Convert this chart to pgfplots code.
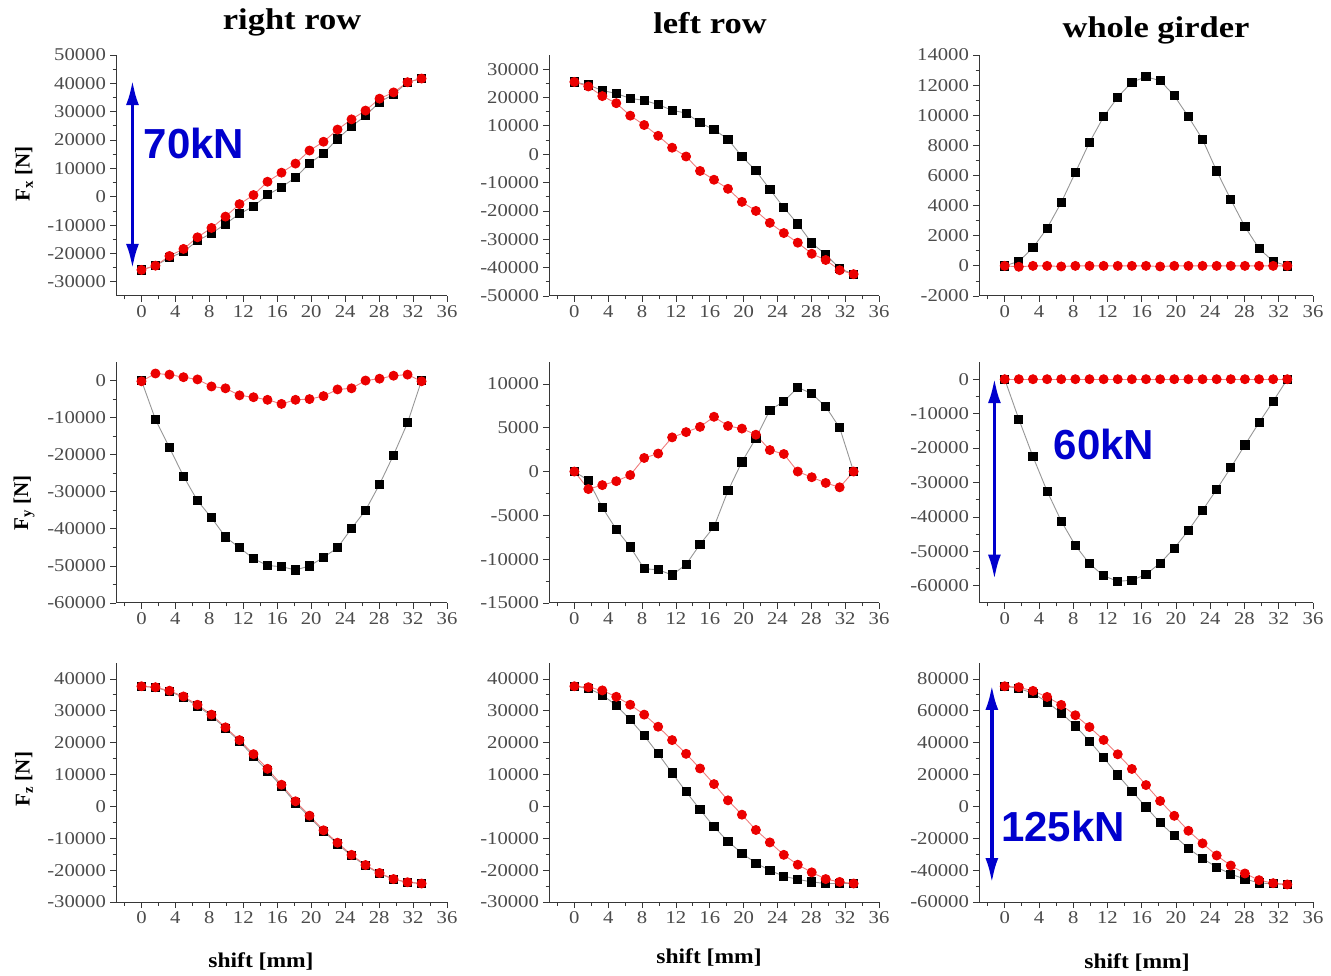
\documentclass[border=0pt]{standalone}
\usepackage{pgfplots}
\pgfplotsset{compat=1.18}
\usepackage{pgfplotstable}
\usepackage{fontspec}
\setmainfont{Liberation Serif}
\newfontfamily\annfont{Liberation Sans}
\usetikzlibrary{arrows.meta}

\definecolor{axisgrey}{RGB}{55,55,55}
\definecolor{labgrey}{RGB}{75,75,75}
\definecolor{linegrey}{RGB}{150,150,150}
\definecolor{linered}{RGB}{240,125,125}
\definecolor{markred}{RGB}{235,0,0}
\definecolor{arrowblue}{RGB}{0,0,205}

% shift [mm], black squares, red circles
\pgfplotstableread{
s black red
0     -25800 -25800
1.65  -24300 -24300
3.3   -21500 -20900
4.95  -19400 -18400
6.6   -15500 -14300
8.25  -12900 -11000
9.9    -9600  -7000
11.55  -6000  -2600
13.2   -3400    600
14.85    700   5300
16.5    3400   8500
18.15   6800  11700
19.8   11800  16300
21.45  15300  19400
23.1   20400  23700
24.75  24800  27300
26.4   28600  30400
28.05  33400  34600
29.7   36100  36800
31.35  40400  40400
33     41700  41700
}\rightFx

\pgfplotstableread{
s black red
0      25500  25500
1.65   24400  23900
3.3    22500  20500
4.95   21400  18000
6.6    19700  13600
8.25   19000  10300
9.9    17500   6500
11.55  15500   2300
13.2   14500   -800
14.85  11100  -5900
16.5    8700  -9000
18.15   5300 -12200
19.8    -800 -16800
21.45  -5800 -20000
23.1  -12400 -24200
24.75 -18800 -27800
26.4  -24600 -31200
28.05 -31300 -35100
29.7  -35400 -37300
31.35 -40300 -40900
33    -42300 -42300
}\leftFx

\pgfplotstableread{
s black red
0          0    0
1.65     300  -60
3.3     1200    0
4.95    2500    0
6.6     4200  -40
8.25    6200    0
9.9     8200    0
11.55   9900    0
13.2   11200    0
14.85  12200    0
16.5   12550    0
18.15  12300  -40
19.8   11300    0
21.45   9900    0
23.1    8400    0
24.75   6300    0
26.4    4400    0
28.05   2600    0
29.7    1150    0
31.35    300    0
33         0    0
}\wholeFx

\pgfplotstableread{
s black red
0          0   -200
1.65  -10500   1900
3.3   -18100   1600
4.95  -25800    900
6.6   -32400    300
8.25  -37000  -1600
9.9   -42200  -2100
11.55 -45100  -4000
13.2  -48000  -4500
14.85 -49900  -5200
16.5  -50200  -6300
18.15 -51100  -5200
19.8  -50000  -5000
21.45 -47700  -4200
23.1  -45100  -2400
24.75 -39900  -2100
26.4  -35000      0
28.05 -28000    500
29.7  -20100   1300
31.35 -11400   1600
33         0   -200
}\rightFy

\pgfplotstableread{
s black red
0          0      0
1.65   -1000  -2000
3.3    -4100  -1550
4.95   -6600  -1100
6.6    -8600   -400
8.25  -11100   1550
9.9   -11200   2050
11.55 -11800   3900
13.2  -10600   4500
14.85  -8300   5100
16.5   -6300   6250
18.15  -2200   5200
19.8    1100   4900
21.45   3800   4200
23.1    7000   2450
24.75   8000   2000
26.4    9600      0
28.05   8900   -650
29.7    7400  -1300
31.35   5000  -1800
33         0      0
}\leftFy

\pgfplotstableread{
s black red
0          0 0
1.65  -11600 0
3.3   -22500 0
4.95  -32500 0
6.6   -41200 0
8.25  -48300 0
9.9   -53600 0
11.55 -57100 0
13.2  -58700 0
14.85 -58400 0
16.5  -56700 0
18.15 -53400 0
19.8  -49100 0
21.45 -43900 0
23.1  -38100 0
24.75 -32000 0
26.4  -25700 0
28.05 -19100 0
29.7  -12600 0
31.35  -6400 0
33         0 0
}\wholeFy

\pgfplotstableread{
s black red
0      37700  37700
1.65   37300  37400
3.3    36100  36300
4.95   34200  34500
6.6    31500  31900
8.25   28400  28800
9.9    24500  24800
11.55  20400  20800
13.2   15700  16400
14.85  11100  11800
16.5    6300   6800
18.15   1100   1600
19.8   -3400  -2900
21.45  -7800  -7500
23.1  -11800 -11400
24.75 -15500 -15200
26.4  -18600 -18400
28.05 -21100 -20900
29.7  -22900 -22800
31.35 -23800 -23800
33    -24200 -24200
}\rightFz

\pgfplotstableread{
s black red
0      37700  37700
1.65   37000  37400
3.3    35000  36400
4.95   31700  34400
6.6    27200  31900
8.25   22200  28800
9.9    16500  25000
11.55  10500  20800
13.2    4600  16500
14.85  -1000  11900
16.5   -6400   7000
18.15 -11000   1900
19.8  -14700  -2600
21.45 -17800  -7400
23.1  -20100 -11300
24.75 -21900 -15200
26.4  -22900 -18300
28.05 -23700 -20700
29.7  -24200 -22800
31.35 -24200 -23700
33    -24200 -24200
}\leftFz

\pgfplotstableread{
s black red
0      75400  75400
1.65   74100  74800
3.3    71000  72500
4.95   65500  68700
6.6    58600  63700
8.25   50500  57200
9.9    41000  49800
11.55  30600  41700
13.2   19700  32700
14.85   9600  23500
16.5    -400  13400
18.15 -10300   3400
19.8  -18400  -5900
21.45 -26400 -15300
23.1  -32700 -23200
24.75 -38100 -30800
26.4  -42500 -37100
28.05 -45600 -42100
29.7  -48000 -46300
31.35 -48600 -48200
33    -49000 -49000
}\wholeFz

\pgfplotsset{
  panel/.style={
    scale only axis, anchor=south west, clip=false,
    axis x line*=bottom, axis y line*=left,
    xmin=-3, xmax=36,
    xtick={0,4,...,36}, minor xtick={-2,2,6,...,34},
    minor y tick num=1,
    tick align=outside,
    major tick length=6pt, minor tick length=3.5pt,
    axis line style={draw=axisgrey, line width=1pt},
    every tick/.style={draw=axisgrey, line width=0.8pt},
    scaled ticks=false,
    /pgf/number format/1000 sep={},
    /pgf/number format/assume math mode=true,
    every tick label/.append style={font=\fontsize{18}{20}\selectfont, text=labgrey, xscale=1.15},
  },
  blk/.style={color=linegrey, line width=0.9pt, mark=square*, mark size=4.1pt,
    mark options={draw=black, fill=black, solid}},
  rd/.style={color=linered, line width=0.9pt, mark=*, mark size=4.5pt,
    mark options={draw=markred, fill=markred, solid}},
}
\tikzset{
  kn/.style={arrowblue, line width=3.5pt,
    {Latex[length=25pt,width=13pt]}-{Latex[length=25pt,width=13pt]}},
}

\newcommand{\knfont}{\annfont\bfseries\fontsize{42}{44}\selectfont}
\newcommand{\titlefont}{\bfseries\fontsize{30}{32}\selectfont}
\newcommand{\labfont}{\bfseries\fontsize{21}{23}\selectfont}

\begin{document}
\begin{tikzpicture}[x=1pt, y=1pt]
\useasboundingbox (0pt,0pt) rectangle (1331pt,975pt);

% ---- row 1: F_x ----
\begin{axis}[panel, at={(116pt,679pt)}, width=331pt, height=241pt,
  ymin=-35000, ymax=50000, ytick={-30000,-20000,...,50000}]
  \addplot[blk] table[x=s, y=black] {\rightFx};
  \addplot[rd]  table[x=s, y=red]   {\rightFx};
  \draw[kn] (axis cs:-1.06,-25400) -- (axis cs:-1.06,41150);
  \node[text=arrowblue, font=\knfont] at (axis cs:6.2,18850) {70kN};
\end{axis}

\begin{axis}[panel, at={(549pt,679pt)}, width=330pt, height=241pt,
  ymin=-50000, ymax=35000, ytick={-50000,-40000,...,30000}]
  \addplot[blk] table[x=s, y=black] {\leftFx};
  \addplot[rd]  table[x=s, y=red]   {\leftFx};
\end{axis}

\begin{axis}[panel, at={(979pt,679pt)}, width=334pt, height=241pt,
  ymin=-2000, ymax=14000, ytick={-2000,0,...,14000}]
  \addplot[blk] table[x=s, y=black] {\wholeFx};
  \addplot[rd]  table[x=s, y=red]   {\wholeFx};
\end{axis}

% ---- row 2: F_y ----
\begin{axis}[panel, at={(116pt,372pt)}, width=331pt, height=241pt,
  ymin=-60000, ymax=5000, ytick={-60000,-50000,...,0}]
  \addplot[blk] table[x=s, y=black] {\rightFy};
  \addplot[rd]  table[x=s, y=red]   {\rightFy};
\end{axis}

\begin{axis}[panel, at={(549pt,372pt)}, width=330pt, height=241pt,
  ymin=-15000, ymax=12500, ytick={-15000,-10000,...,10000}]
  \addplot[blk] table[x=s, y=black] {\leftFy};
  \addplot[rd]  table[x=s, y=red]   {\leftFy};
\end{axis}

\begin{axis}[panel, at={(979pt,372pt)}, width=334pt, height=241pt,
  ymin=-65000, ymax=5000, ytick={-60000,-50000,...,0}]
  \addplot[blk] table[x=s, y=black] {\wholeFy};
  \addplot[rd]  table[x=s, y=red]   {\wholeFy};
  \draw[kn] (axis cs:-1.2,-58200) -- (axis cs:-1.2,300);
  \node[text=arrowblue, font=\knfont] at (axis cs:11.6,-18900) {60kN};
\end{axis}

% ---- row 3: F_z ----
\begin{axis}[panel, at={(116pt,73pt)}, width=331pt, height=239pt,
  ymin=-30000, ymax=45000, ytick={-30000,-20000,...,40000}]
  \addplot[blk] table[x=s, y=black] {\rightFz};
  \addplot[rd]  table[x=s, y=red]   {\rightFz};
\end{axis}

\begin{axis}[panel, at={(549pt,73pt)}, width=330pt, height=239pt,
  ymin=-30000, ymax=45000, ytick={-30000,-20000,...,40000}]
  \addplot[blk] table[x=s, y=black] {\leftFz};
  \addplot[rd]  table[x=s, y=red]   {\leftFz};
\end{axis}

\begin{axis}[panel, at={(979pt,73pt)}, width=334pt, height=239pt,
  ymin=-60000, ymax=90000, ytick={-60000,-40000,...,80000}]
  \addplot[blk] table[x=s, y=black] {\wholeFz};
  \addplot[rd]  table[x=s, y=red]   {\wholeFz};
  \draw[kn] (axis cs:-1.5,-48100) -- (axis cs:-1.5,76200);
  \node[text=arrowblue, font=\knfont] at (axis cs:6.8,-12900) {125kN};
\end{axis}

% column titles
\node[font=\titlefont, xscale=1.15] at (292pt,953pt) {right row};
\node[font=\titlefont, xscale=1.15] at (710pt,952pt) {left row};
\node[font=\titlefont, xscale=1.15] at (1156pt,945pt) {whole girder};

% row labels
\node[font=\labfont, rotate=90] at (24pt,801pt) {F\textsubscript{x} [N]};
\node[font=\labfont, rotate=90] at (24pt,472pt) {F\textsubscript{y} [N]};
\node[font=\labfont, rotate=90] at (24pt,196pt) {F\textsubscript{z} [N]};

% shift labels
\node[font=\labfont, xscale=1.12] at (261pt,13pt) {shift [mm]};
\node[font=\labfont, xscale=1.12] at (709pt,17pt) {shift [mm]};
\node[font=\labfont, xscale=1.12] at (1137pt,12pt) {shift [mm]};
\end{tikzpicture}
\end{document}
